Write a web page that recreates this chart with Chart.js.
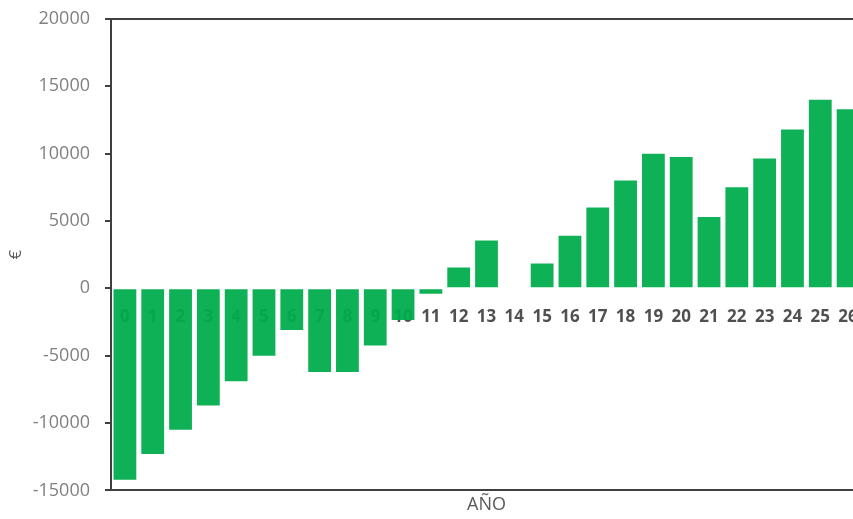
<!DOCTYPE html>
<html>
<head>
<meta charset="utf-8">
<script src="https://cdn.jsdelivr.net/npm/chart.js@4"></script>
<style>
  html, body { margin: 0; padding: 0; background: #fff; overflow: hidden; }
  canvas { display: block; }
</style>
</head>
<body>
<canvas id="flujo-chart" width="864" height="519"></canvas>
<script>
// datos
const years = ['0','1','2','3','4','5','6','7','8','9','10','11','12','13','14','15','16','17','18','19','20','21','22','23','24','25','26'];
const cashFlow = [-14200, -12300, -10500, -8700, -6900, -5000, -3100, -6200, -6200, -4250, -2350, -400,
                  1550, 3550, 0, 1850, 3900, 6000, 8000, 10000, 9750, 5300, 7500, 9650, 11800, 14000, 13300];
const yTicks = [-15000, -10000, -5000, 0, 5000, 10000, 15000, 20000];

const axisColor = '#404040';
const fontName = 'Open Sans';

const config = {
    type: 'bar',
    data: {
        labels: years,
        datasets: [{
            label: 'Flujo',
            data: cashFlow,
            backgroundColor: 'rgba(0, 172, 76, 0.94)',
            borderWidth: 0,
            categoryPercentage: 1.0,
            barPercentage: 0.82,
            xAxisID: 'x'
        }]
    },
    options: {
        responsive: false,
        animation: false,
        layout: {
            // el lienzo es algo mas ancho que la ventana: el grafico original queda cortado a la derecha
            padding: { top: 19, right: 2, bottom: 0, left: 2 }
        },
        plugins: {
            legend: { display: false },
            tooltip: { enabled: false }
        },
        scales: {
            x: {
                type: 'category',
                position: { y: 0 },
                offset: true,
                afterFit: function(scale) {
                    scale.paddingLeft = 0;
                    scale.paddingRight = 0;
                },
                grid: { display: false, drawTicks: false },
                border: { display: false },
                ticks: {
                    padding: 19,
                    maxRotation: 0,
                    autoSkip: false,
                    color: '#505050',
                    font: { family: fontName, size: 17, weight: 'bold' }
                }
            },
            x2: {
                type: 'category',
                position: 'bottom',
                offset: true,
                grid: { display: false, drawTicks: false },
                border: { display: true, color: axisColor, width: 2 },
                ticks: { display: false },
                title: {
                    display: true,
                    text: 'AÑO',
                    color: '#595959',
                    font: { family: fontName, size: 18 },
                    padding: { top: 4, bottom: 3 }
                }
            },
            y: {
                type: 'linear',
                position: 'left',
                min: -15000,
                max: 20000,
                afterBuildTicks: function(scale) {
                    scale.ticks = yTicks.map(v => ({ value: v }));
                },
                afterFit: function(scale) {
                    scale.width = 109;
                    scale.paddingTop = 0;
                    scale.paddingBottom = 0;
                },
                grid: {
                    // solo la linea superior del marco
                    color: function(c) {
                        return c.tick && c.tick.value === 20000 ? axisColor : 'rgba(0,0,0,0)';
                    },
                    lineWidth: 2,
                    tickColor: axisColor,
                    tickLength: 6
                },
                border: { display: true, color: axisColor, width: 2 },
                ticks: {
                    padding: 15,
                    color: '#808080',
                    font: { family: fontName, size: 18 },
                    callback: function(value) { return String(value); }
                },
                title: {
                    display: true,
                    text: '€',
                    color: '#595959',
                    font: { family: fontName, size: 17 },
                    padding: { top: 4, bottom: 4 }
                }
            }
        }
    }
};

const ctx = document.getElementById('flujo-chart').getContext('2d');
const flujoChart = new Chart(ctx, config);
</script>
</body>
</html>
